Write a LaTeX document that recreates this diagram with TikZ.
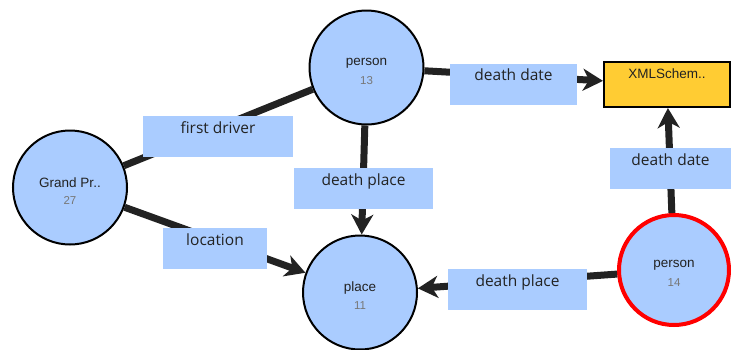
\documentclass[tikz,border=0pt]{standalone}
\usepackage{fontspec}
\setmainfont{Liberation Sans}
\newfontfamily\lblfont{Open Sans}
\usetikzlibrary{arrows.meta}
\definecolor{nodeblue}{HTML}{AACCFF}
\definecolor{gold}{HTML}{FFCC33}
\definecolor{ink}{HTML}{222222}
\definecolor{numgray}{HTML}{777777}
\begin{document}
\begin{tikzpicture}[x=1pt,y=-1pt,
  circ/.style={circle, draw=black, line width=2pt, fill=nodeblue, minimum size=114pt, inner sep=0pt},
  focus/.style={circ, draw=red, line width=4pt, minimum size=110pt},
  typebox/.style={rectangle, draw=black, line width=2pt, fill=gold, minimum width=126pt, minimum height=45pt, inner sep=0pt,
    text height=16.5pt, text depth=28.5pt, font=\fontsize{13.5}{16}\selectfont, text=ink},
  nm/.style={font=\fontsize{13.5}{16}\selectfont, text=ink, inner sep=0pt},
  num/.style={font=\fontsize{11.5}{14}\selectfont, text=numgray, inner sep=0pt},
  edge/.style={draw=ink, line width=7pt},
  arr/.style={edge, -{Stealth[length=20pt,width=22pt,inset=6pt]}},
  lbl/.style={fill=nodeblue, inner sep=0pt, minimum height=41pt, text height=17pt, text depth=24pt,
    font=\lblfont\fontsize{15.5}{18}\selectfont, text=ink},
]
\useasboundingbox (0,0) rectangle (734,349);

% entities
\node[circ,  label={[nm, yshift=4.5pt]center:Grand Pr..}, label={[num, yshift=-13pt]center:27}] (gp)  at (70,187.5) {};
\node[circ,  label={[nm, yshift=4.5pt]center:person},     label={[num, yshift=-13pt]center:13}] (p13) at (366.5,67.5) {};
\node[circ,  label={[nm, yshift=4.5pt]center:place},      label={[num, yshift=-13pt]center:11}] (pl)  at (360,292.5) {};
\node[focus, label={[nm, yshift=4.5pt]center:person},     label={[num, yshift=-13pt]center:14}] (p14) at (674,270) {};
\node[typebox] (xs) at (667,84.5) {XMLSchem..};

% relations
\draw[edge] (gp) -- (p13);
\draw[arr]  (gp) -- (pl);
\draw[arr]  (p13) -- (pl);
\draw[arr]  (p13) -- (xs);
\draw[arr]  (p14) -- (xs);
\draw[arr]  (p14) -- (pl);

% relation labels
\node[lbl, minimum width=150pt] (l1) at (218,136.5)   {first driver};
\node[lbl, minimum width=104pt] (l2) at (215,248.5)   {location};
\node[lbl, minimum width=139pt] (l3) at (363.5,188.5) {death place};
\node[lbl, minimum width=127pt] (l4) at (513.5,84)    {death date};
\node[lbl, minimum width=121pt] (l5) at (670.5,168.5) {death date};
\node[lbl, minimum width=139pt] (l6) at (517.5,289.5) {death place};
\end{tikzpicture}
\end{document}
